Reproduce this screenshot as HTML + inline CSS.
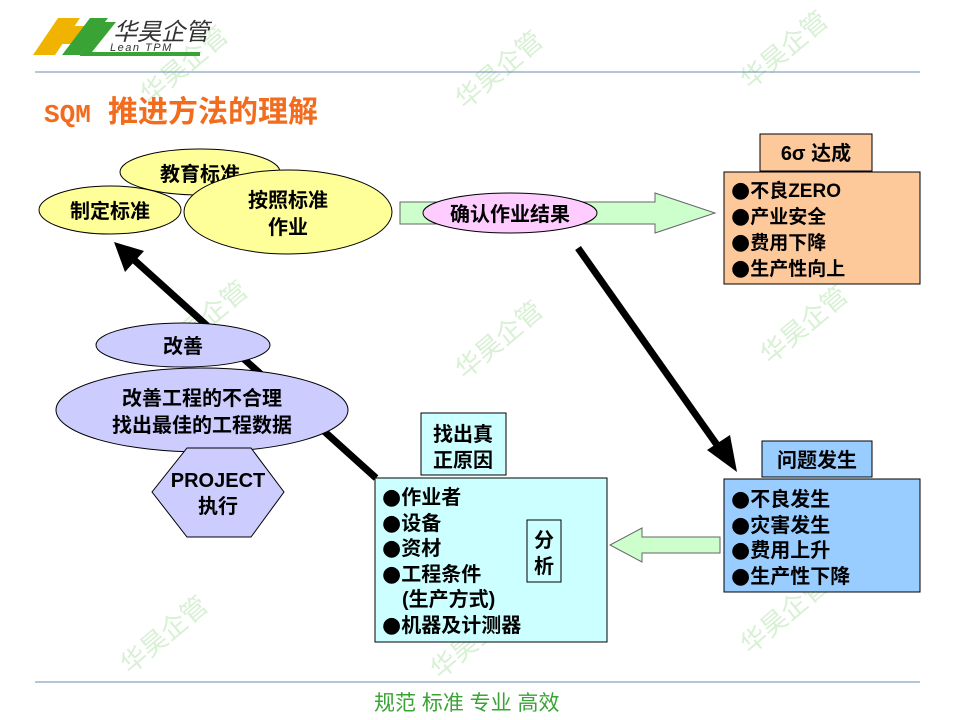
<!DOCTYPE html>
<html><head><meta charset="utf-8"><style>
html,body{margin:0;padding:0;background:#fff;}
svg{display:block;}
text{font-family:"Liberation Sans","Noto Sans CJK SC",sans-serif;}
.b{font-weight:bold;font-size:20px;fill:#000;}
.l{font-family:"Noto Sans CJK SC",sans-serif;font-weight:bold;fill:#000;}
.d{font-family:"DejaVu Sans",sans-serif;font-size:22px;}
.wm{fill:#d8f0d4;font-size:26px;}
</style></head><body>
<svg width="960" height="720" viewBox="0 0 960 720" xmlns="http://www.w3.org/2000/svg">
<g class="wm">
<text transform="translate(150,105) rotate(-40)">华昊企管</text>
<text transform="translate(465,110) rotate(-40)">华昊企管</text>
<text transform="translate(750,90) rotate(-40)">华昊企管</text>
<text transform="translate(170,360) rotate(-40)">华昊企管</text>
<text transform="translate(465,380) rotate(-40)">华昊企管</text>
<text transform="translate(770,365) rotate(-40)">华昊企管</text>
<text transform="translate(130,675) rotate(-40)">华昊企管</text>
<text transform="translate(440,680) rotate(-40)">华昊企管</text>
<text transform="translate(750,655) rotate(-40)">华昊企管</text>
</g>
<polygon points="33,55 58,18 80,18 55,55" fill="#f0b400"/>
<polygon points="56,44 70,26 100,26 86,44" fill="#f0b400"/>
<polygon points="62,55 90,18 108,18 80,55" fill="#3aa335"/>
<polygon points="80,55 104,22 116,22 92,52 200,52 200,56 80,56" fill="#3aa335"/>
<text x="113" y="40" font-size="24" font-style="italic" fill="#333">华昊企管</text>
<text x="110" y="51" font-size="11" font-style="italic" fill="#333" letter-spacing="1.5">Lean TPM</text>
<line x1="35" y1="72" x2="920" y2="72" stroke="#6a8caf" stroke-width="1"/>
<text x="44" y="122" font-size="28" font-weight="bold" fill="#f36b1c"><tspan font-family="Liberation Mono" font-size="26">SQM</tspan><tspan x="108" font-size="30">推进方法的理解</tspan></text>

<ellipse cx="200" cy="172" rx="80" ry="23" fill="#ffff99" stroke="#000"/>
<text x="200" y="181" class="b" text-anchor="middle">教育标准</text>
<ellipse cx="110" cy="210" rx="71" ry="24" fill="#ffff99" stroke="#000"/>
<text x="110" y="218" class="b" text-anchor="middle">制定标准</text>
<ellipse cx="288" cy="212" rx="104" ry="42" fill="#ffff99" stroke="#000"/>
<text x="288" y="207" class="b" text-anchor="middle">按照标准</text>
<text x="288" y="234" class="b" text-anchor="middle">作业</text>

<polygon points="400,202 655,202 655,193 715,213 655,233 655,224 400,224" fill="#ccffcc" stroke="#666"/>
<ellipse cx="510" cy="213" rx="87" ry="20" fill="#ffccff" stroke="#000"/>
<text x="510" y="221" class="b" text-anchor="middle">确认作业结果</text>

<rect x="760" y="134" width="112" height="37" fill="#fdc99b" stroke="#000"/>
<text x="816" y="160" class="b" font-size="18" text-anchor="middle">6σ 达成</text>
<rect x="724" y="172" width="196" height="112" fill="#fdc99b" stroke="#000"/>
<g class="l" font-size="19">
<text x="731" y="197"><tspan class="d">●</tspan>不良ZERO</text>
<text x="731" y="223"><tspan class="d">●</tspan>产业安全</text>
<text x="731" y="249"><tspan class="d">●</tspan>费用下降</text>
<text x="731" y="275"><tspan class="d">●</tspan>生产性向上</text>
</g>

<line x1="578" y1="248" x2="722" y2="452" stroke="#000" stroke-width="7"/>
<polygon points="737,472 707,450 730,435" fill="#000"/>
<line x1="376" y1="478" x2="132" y2="258" stroke="#000" stroke-width="7"/>
<polygon points="114,242 144,251 125,272" fill="#000"/>

<rect x="762" y="441" width="110" height="36" fill="#99ccff" stroke="#000"/>
<text x="817" y="467" class="b" text-anchor="middle">问题发生</text>
<rect x="724" y="479" width="196" height="113" fill="#99ccff" stroke="#000"/>
<g class="l" font-size="20">
<text x="731" y="506"><tspan class="d">●</tspan>不良发生</text>
<text x="731" y="532"><tspan class="d">●</tspan>灾害发生</text>
<text x="731" y="557"><tspan class="d">●</tspan>费用上升</text>
<text x="731" y="583"><tspan class="d">●</tspan>生产性下降</text>
</g>

<polygon points="720,537 642,537 642,528 610,545 642,562 642,553 720,553" fill="#ccffcc" stroke="#666"/>

<rect x="421" y="413" width="85" height="62" fill="#ccffff" stroke="#000"/>
<text x="463" y="441" class="b" text-anchor="middle">找出真</text>
<text x="463" y="467" class="b" text-anchor="middle">正原因</text>
<rect x="375" y="478" width="232" height="164" fill="#ccffff" stroke="#000"/>
<g class="l" font-size="20">
<text x="382" y="504"><tspan class="d">●</tspan>作业者</text>
<text x="382" y="530"><tspan class="d">●</tspan>设备</text>
<text x="382" y="555"><tspan class="d">●</tspan>资材</text>
<text x="382" y="581"><tspan class="d">●</tspan>工程条件</text>
<text x="402" y="606">(生产方式)</text>
<text x="382" y="632"><tspan class="d">●</tspan>机器及计测器</text>
</g>
<rect x="527" y="520" width="34" height="62" fill="#ccffff" stroke="#000"/>
<text x="544" y="547" class="b" text-anchor="middle">分</text>
<text x="544" y="573" class="b" text-anchor="middle">析</text>

<ellipse cx="183" cy="345" rx="87" ry="22" fill="#ccccff" stroke="#000"/>
<text x="183" y="353" class="b" text-anchor="middle">改善</text>
<ellipse cx="202" cy="410" rx="146" ry="42" fill="#ccccff" stroke="#000"/>
<text x="202" y="405" class="b" text-anchor="middle">改善工程的不合理</text>
<text x="202" y="432" class="b" text-anchor="middle">找出最佳的工程数据</text>
<polygon points="187,448 251,448 284,492 251,537 187,537 152,492" fill="#ccccff" stroke="#000"/>
<text x="218" y="487" class="b" font-size="17" text-anchor="middle">PROJECT</text>
<text x="218" y="513" class="b" text-anchor="middle">执行</text>

<line x1="35" y1="682" x2="920" y2="682" stroke="#6a8caf" stroke-width="1"/>
<text x="374" y="710" font-size="21" fill="#3aa335">规范 标准 专业 高效</text>
</svg>
</body></html>
